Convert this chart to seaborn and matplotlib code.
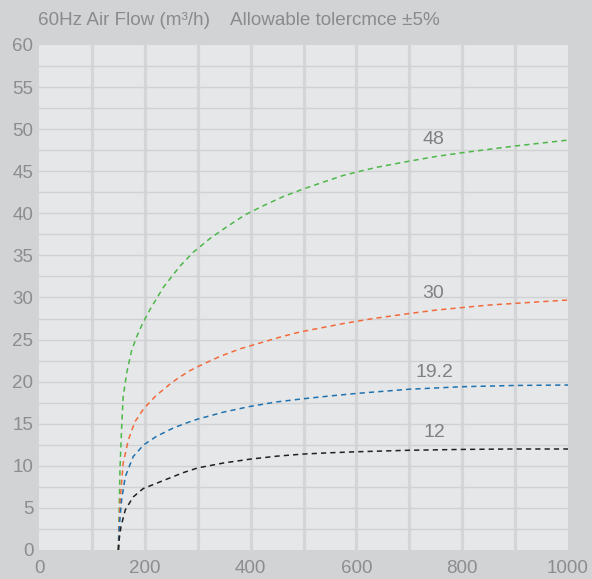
import matplotlib.pyplot as plt
import numpy as np
import pandas as pd
import seaborn as sns

# ---- data ----
green_x = [150, 151, 152, 153, 156, 159, 166, 175, 185, 195, 210, 235, 266, 292, 323, 355, 389, 424,
           462, 500, 537, 575, 613, 641, 700, 750, 800, 850, 900, 950, 1000]
green_y = [0, 3, 6, 9.5, 14.3, 18.2, 21.1, 23.7, 25.4, 26.8, 28.6, 31.2, 33.7, 35.4, 37.0, 38.4, 39.8, 40.9,
           42.0, 42.9, 43.7, 44.5, 45.1, 45.5, 46.2, 46.75, 47.2, 47.6, 48.0, 48.35, 48.7]

orange_x = [150, 151, 153, 159, 169, 181, 198, 210, 222, 238, 251, 270, 285, 304, 342, 380, 418, 456,
            493, 534, 575, 632, 700, 750, 800, 850, 900, 950, 1000]
orange_y = [0, 2.5, 5.5, 10.3, 13.1, 15.2, 16.8, 17.6, 18.4, 19.2, 19.9, 20.7, 21.3, 21.9, 23.0, 23.9, 24.6, 25.3,
            25.9, 26.4, 26.9, 27.5, 28.1, 28.5, 28.8, 29.1, 29.3, 29.5, 29.7]

blue_x = [150, 152, 156, 163, 178, 198, 222, 254, 279, 300, 350, 400, 450, 500, 550, 600, 700, 800, 900, 1000]
blue_y = [0, 3, 5.9, 8.7, 11.1, 12.5, 13.5, 14.5, 15.1, 15.55, 16.4, 17.07, 17.6, 17.97, 18.3, 18.6, 19.1, 19.4, 19.55, 19.6]

black_x = [150, 152, 155, 163, 178, 197, 229, 273, 300, 350, 400, 450, 500, 550, 600, 700, 800, 900, 1000]
black_y = [0, 1.5, 2.8, 4.75, 6.3, 7.3, 8.1, 9.2, 9.75, 10.35, 10.8, 11.15, 11.4, 11.55, 11.67, 11.85, 11.95, 12.0, 12.0]

series_names = ["48", "30", "19.2", "12"]
label_x = [745, 745, 747, 747]
label_y = [48.8, 30.5, 21.1, 13.9]

x_ticks = [0, 200, 400, 600, 800, 1000]
x_grid = [100, 200, 300, 400, 500, 600, 700, 800, 900]
y_ticks = [0, 5, 10, 15, 20, 25, 30, 35, 40, 45, 50, 55, 60]
y_grid = np.arange(2.5, 60, 2.5)

title = "60Hz Air Flow (m\u00b3/h)    Allowable tolercmce \u00b15%"

# ---- table for seaborn ----
frames = []
for name, xs, ys in zip(series_names,
                        [green_x, orange_x, blue_x, black_x],
                        [green_y, orange_y, blue_y, black_y]):
    frames.append(pd.DataFrame({"flow": xs, "pressure": ys, "curve": name}))
df = pd.concat(frames, ignore_index=True)

palette = {"48": "#4cb848", "30": "#f26a3b", "19.2": "#1f72b0", "12": "#231f20"}

sns.set_style("white", {
    "axes.facecolor": "#e6e7e9",
    "figure.facecolor": "#d2d3d5",
})
plt.rcParams["font.family"] = ["Liberation Sans", "DejaVu Sans"]

fig = plt.figure(figsize=(5.92, 5.79), dpi=100)
ax = fig.add_axes([0.0659, 0.0501, 0.8936, 0.8722])

# grid
for gx in x_grid:
    ax.axvline(gx, color="#d4d5d7", lw=2.3, zorder=0)
for gy in y_grid:
    ax.axhline(gy, color="#d0d1d3", lw=1.0, zorder=0)
n_grid = len(ax.get_lines())

sns.lineplot(data=df, x="flow", y="pressure", hue="curve", palette=palette,
             sort=False, estimator=None, units="curve", legend=False,
             linewidth=1.1, ax=ax, zorder=3)
for line in ax.get_lines()[n_grid:]:
    line.set_linestyle((0, (3.4, 2.7)))

for name, lx, ly in zip(series_names, label_x, label_y):
    ax.text(lx, ly, name, ha="center", va="center", fontsize=14, color="#808183")

ax.set_xlim(0, 1000)
ax.set_ylim(0, 60)
ax.set_xticks(x_ticks)
ax.set_yticks(y_ticks)
ax.tick_params(length=0, labelsize=13.5, labelcolor="#8c8d8f")
ax.tick_params(axis="x", pad=7)
ax.tick_params(axis="y", pad=4)
ax.set_xlabel("")
ax.set_ylabel("")
for s in ax.spines.values():
    s.set_visible(False)

fig.text(0.064, 0.965, title, ha="left", va="center", fontsize=13.6, color="#8a8b8d")

fig.savefig("out.png", dpi=100, facecolor=fig.get_facecolor())
